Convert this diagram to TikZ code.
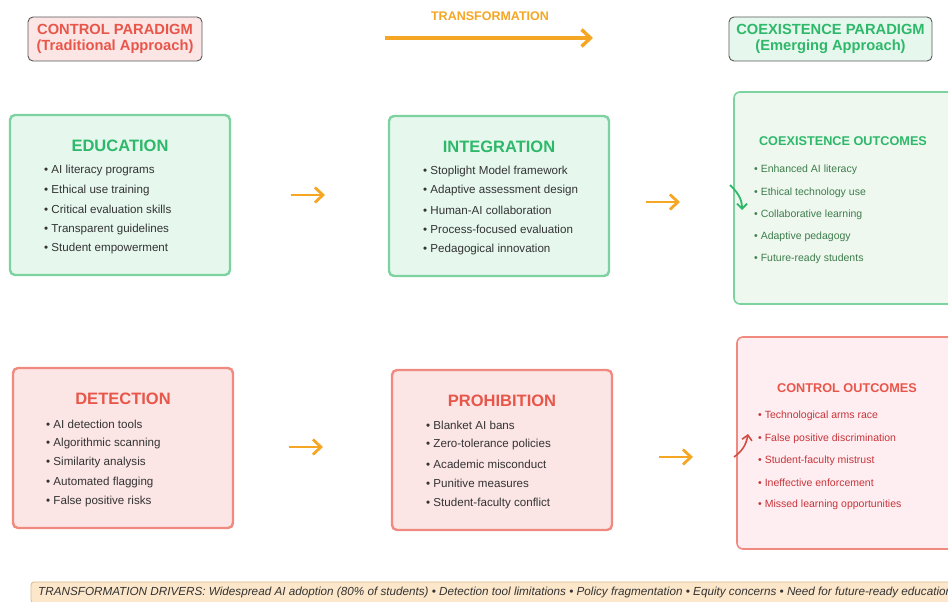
\documentclass[tikz,border=0pt]{standalone}
\usepackage{fontspec}
\setmainfont{Liberation Sans}
\usetikzlibrary{arrows.meta}
\definecolor{gtitle}{HTML}{2EB86A}
\definecolor{gborder}{HTML}{7DD3A0}
\definecolor{gfill}{HTML}{E6F7EE}
\definecolor{gfill2}{HTML}{EEF8EF}
\definecolor{gitem}{HTML}{3E7D4C}
\definecolor{rtitle}{HTML}{E8564A}
\definecolor{rborder}{HTML}{F08A80}
\definecolor{rfill}{HTML}{FBE5E5}
\definecolor{rfill2}{HTML}{FFEEF1}
\definecolor{ritem}{HTML}{C6343A}
\definecolor{orng}{HTML}{F5A623}
\definecolor{txt}{HTML}{333333}
\definecolor{bannerfill}{HTML}{FCE7CB}
\definecolor{bannerdraw}{HTML}{D9B98A}
\tikzset{
  gbox/.style={draw=gborder, fill=gfill, line width=2.4pt, rounded corners=5pt},
  rbox/.style={draw=rborder, fill=rfill, line width=2.4pt, rounded corners=5pt},
  gobox/.style={draw=gborder, fill=gfill2, line width=1.6pt, rounded corners=6pt},
  robox/.style={draw=rborder, fill=rfill2, line width=1.6pt, rounded corners=6pt},
  hdr/.style={draw=black!65, line width=0.9pt, rounded corners=5pt, align=center, font=\fontsize{14.7}{16.5}\selectfont\bfseries, inner sep=0pt},
  btitle/.style={font=\fontsize{16.5}{18}\selectfont\bfseries},
  otitle/.style={font=\fontsize{12.7}{14}\selectfont\bfseries},
  itm/.style={anchor=west, inner sep=0pt, text=txt, font=\fontsize{11.6}{13}\selectfont},
  oitm/.style={anchor=west, inner sep=0pt, font=\fontsize{10.5}{12}\selectfont},
  oarr/.style={draw=orng, line width=2.8pt, -{Straight Barb[length=8pt,width=15pt,line width=2.8pt]}},
}
\begin{document}
\begin{tikzpicture}[x=1pt,y=-1pt]
\useasboundingbox (0,0) rectangle (948,602);
\begin{scope}
\clip (0,0) rectangle (948,602);
% headers
\node[hdr, fill=rfill, text=rtitle, minimum width=174pt, minimum height=44pt] (hctl) at (115,39) {CONTROL PARADIGM\\(Traditional Approach)};
\node[hdr, fill=gfill, text=gtitle, minimum width=203pt, minimum height=44pt] (hcoe) at (830.5,39) {COEXISTENCE PARADIGM\\(Emerging Approach)};
\node[text=orng, font=\fontsize{12.5}{14}\selectfont\bfseries] (tlab) at (490,16) {TRANSFORMATION};
\coordinate (ta) at (385,38);
\coordinate (tb) at (593,38);
\draw[draw=orng, line width=3.4pt, -{Straight Barb[length=9pt,width=17pt,line width=3.4pt]}] (ta) -- (tb);

% EDUCATION
\draw[gbox] (10,115) rectangle (230,275);
\node[btitle, text=gtitle] (edu) at (120,145.5) {EDUCATION};
\foreach \t [count=\i from 0] in {AI literacy programs, Ethical use training, Critical evaluation skills, Transparent guidelines, Student empowerment}
  \node[itm] at (44,171+19.4*\i) {\textbullet\ \t};

% INTEGRATION
\draw[gbox] (389,116) rectangle (609,276);
\node[btitle, text=gtitle] (int) at (499,146.5) {INTEGRATION};
\foreach \t [count=\i from 0] in {Stoplight Model framework, Adaptive assessment design, Human-AI collaboration, Process-focused evaluation, Pedagogical innovation}
  \node[itm] at (423,171.5+19.4*\i) {\textbullet\ \t};

% COEXISTENCE OUTCOMES
\draw[gobox] (734,92) rectangle (960,304);
\node[otitle, text=gtitle] (coo) at (843,141) {COEXISTENCE OUTCOMES};
\foreach \t [count=\i from 0] in {Enhanced AI literacy, Ethical technology use, Collaborative learning, Adaptive pedagogy, Future-ready students}
  \node[oitm, text=gitem] at (754,170+22.3*\i) {\textbullet\ \t};

% DETECTION
\draw[rbox] (13,368) rectangle (233,528);
\node[btitle, text=rtitle] (det) at (123,398.5) {DETECTION};
\foreach \t [count=\i from 0] in {AI detection tools, Algorithmic scanning, Similarity analysis, Automated flagging, False positive risks}
  \node[itm] at (46,424+19.4*\i) {\textbullet\ \t};

% PROHIBITION
\draw[rbox] (392,370) rectangle (612,530);
\node[btitle, text=rtitle] (pro) at (502,400.5) {PROHIBITION};
\foreach \t [count=\i from 0] in {Blanket AI bans, Zero-tolerance policies, Academic misconduct, Punitive measures, Student-faculty conflict}
  \node[itm] at (426,425+19.5*\i) {\textbullet\ \t};

% CONTROL OUTCOMES
\draw[robox] (737,337) rectangle (960,549);
\node[otitle, text=rtitle] (cto) at (847,388) {CONTROL OUTCOMES};
\foreach \t [count=\i from 0] in {Technological arms race, False positive discrimination, Student-faculty mistrust, Ineffective enforcement, Missed learning opportunities}
  \node[oitm, text=ritem] at (758,416+22.3*\i) {\textbullet\ \t};

% orange arrows
\coordinate (a1) at (291,195); \coordinate (a2) at (325,195);
\coordinate (b1) at (646,202); \coordinate (b2) at (680,202);
\coordinate (c1) at (289,447); \coordinate (c2) at (323,447);
\coordinate (d1) at (659,457); \coordinate (d2) at (693,457);
\draw[oarr] (a1) -- (a2);
\draw[oarr] (b1) -- (b2);
\draw[oarr] (c1) -- (c2);
\draw[oarr] (d1) -- (d2);

% curved arrows
\coordinate (g1) at (730,185); \coordinate (g2) at (742,210);
\draw[draw=gtitle, line width=1.8pt, -{Straight Barb[length=5pt,width=10pt,line width=1.8pt]}] (g1) .. controls (737,192) and (742,198) .. (g2);
\coordinate (r1) at (734,457); \coordinate (r2) at (748,434);
\draw[draw=rtitle!90!black, line width=1.6pt, -{Straight Barb[length=5pt,width=10pt,line width=1.6pt]}] (r1) .. controls (741,452) and (746,446) .. (r2);

% banner
\draw[draw=bannerdraw, fill=bannerfill, line width=0.8pt, rounded corners=3pt] (31,582) rectangle (980,603);
\node[anchor=west, inner sep=0pt, text=txt, font=\fontsize{11.7}{13}\selectfont\itshape] (ban) at (38,592) {TRANSFORMATION DRIVERS: Widespread AI adoption (80\% of students) \textbullet\ Detection tool limitations \textbullet\ Policy fragmentation \textbullet\ Equity concerns \textbullet\ Need for future-ready education};
\end{scope}
\end{tikzpicture}
\end{document}
